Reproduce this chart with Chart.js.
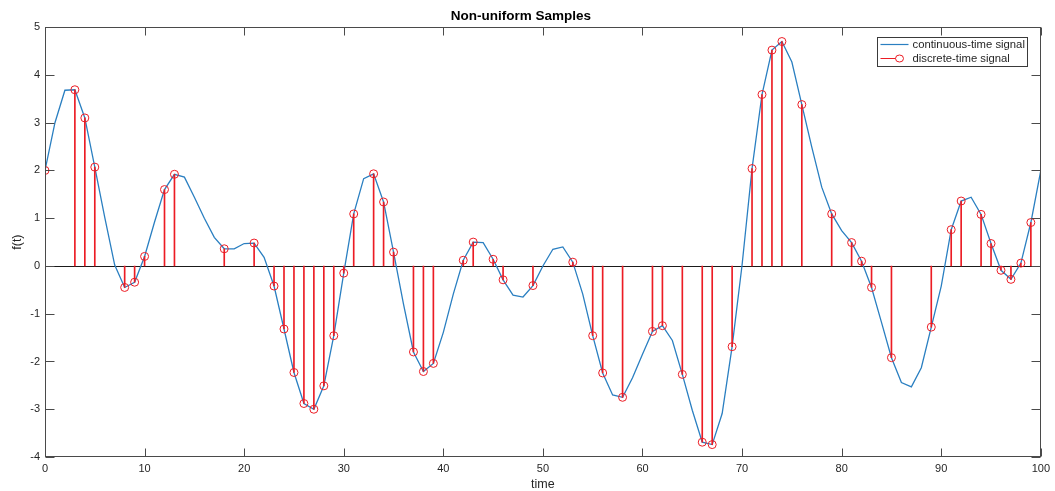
<!DOCTYPE html>
<html>
<head>
<meta charset="utf-8">
<script src="https://cdn.jsdelivr.net/npm/chart.js@4/dist/chart.umd.min.js"></script>
<style>
    html, body { margin: 0; padding: 0; background: #fff; }
    #wrap { width: 1055px; height: 491px; position: relative; }
</style>
</head>
<body>
<div id="wrap"><canvas id="signalChart"></canvas></div>
<script>
// Continuous-time signal, one value per time step 0..100
const signalValues = [
    2.00, 3.00, 3.68, 3.69, 3.10, 2.07, 1.02, 0.02, -0.45, -0.34,
    0.20, 0.92, 1.60, 1.92, 1.86, 1.44, 1.00, 0.60, 0.36, 0.36,
    0.47, 0.48, 0.18, -0.42, -1.32, -2.23, -2.88, -3.00, -2.51, -1.46,
    -0.15, 1.09, 1.83, 1.93, 1.34, 0.29, -0.80, -1.80, -2.21, -2.04,
    -1.39, -0.59, 0.12, 0.50, 0.49, 0.14, -0.29, -0.61, -0.65, -0.41,
    0.00, 0.35, 0.40, 0.08, -0.59, -1.46, -2.24, -2.70, -2.75, -2.34,
    -1.85, -1.37, -1.25, -1.56, -2.27, -3.02, -3.69, -3.74, -3.09, -1.69,
    0.02, 2.04, 3.59, 4.52, 4.70, 4.27, 3.38, 2.49, 1.65, 1.09,
    0.74, 0.49, 0.10, -0.45, -1.18, -1.92, -2.44, -2.53, -2.13, -1.28,
    -0.42, 0.76, 1.36, 1.44, 1.08, 0.47, -0.09, -0.28, 0.06, 0.91,
    2.00
];

// Non-uniform sample instants and their values
const sampleTimes = [
    0, 3, 4, 5, 8, 9, 10, 12, 13, 18, 21, 23, 24, 25, 26, 27, 28, 29, 30, 31,
    33, 34, 35, 37, 38, 39, 42, 43, 45, 46, 49, 53, 55, 56, 58, 61, 62, 64, 66, 67,
    69, 71, 72, 73, 74, 76, 79, 81, 82, 83, 85, 89, 91, 92, 94, 95, 96, 97, 98, 99
];
const sampleValues = [
    2.00, 3.69, 3.10, 2.07, -0.45, -0.34, 0.20, 1.60, 1.92, 0.36, 0.48, -0.42, -1.32, -2.23, -2.88, -3.00, -2.51, -1.46, -0.15, 1.09,
    1.93, 1.34, 0.29, -1.80, -2.21, -2.04, 0.12, 0.50, 0.14, -0.29, -0.41, 0.08, -1.46, -2.24, -2.75, -1.37, -1.25, -2.27, -3.69, -3.74,
    -1.69, 2.04, 3.59, 4.52, 4.70, 3.38, 1.09, 0.49, 0.10, -0.45, -1.92, -1.28, 0.76, 1.36, 1.08, 0.47, -0.09, -0.28, 0.06, 0.91
];

const xTicks = [0, 10, 20, 30, 40, 50, 60, 70, 80, 90, 100];
const yTicks = [-4, -3, -2, -1, 0, 1, 2, 3, 4, 5];

const legendLabels = ['continuous-time signal', 'discrete-time signal'];

const BLUE = '#2a7fc1';
const RED = '#ec1c24';
const AXIS = '#4a4a4a';
const TEXT = '#262626';
const FONT = '"Liberation Sans", Arial, Helvetica, sans-serif';

// Box, inward ticks, zero baseline and legend (MATLAB look)
const matlabAxes = {
    id: 'matlabAxes',
    beforeDatasetsDraw(chart) {
        const { ctx, chartArea: a, scales: { y } } = chart;
        const y0 = Math.round(y.getPixelForValue(0)) + 0.5;
        ctx.save();
        ctx.strokeStyle = '#1a1a1a';
        ctx.lineWidth = 1;
        ctx.beginPath();
        ctx.moveTo(a.left, y0);
        ctx.lineTo(a.right, y0);
        ctx.stroke();
        ctx.restore();
    },
    afterDatasetsDraw(chart) {
        const { ctx, chartArea: a, scales: { x, y } } = chart;
        ctx.save();
        ctx.strokeStyle = AXIS;
        ctx.lineWidth = 1;
        const L = Math.round(a.left) + 0.5, R = Math.round(a.right) - 0.5;
        const T = Math.round(a.top) + 0.5, B = Math.round(a.bottom) - 0.5;
        ctx.strokeRect(L, T, R - L, B - T);
        ctx.beginPath();
        xTicks.forEach(v => {
            const px = Math.round(x.getPixelForValue(v)) + 0.5;
            ctx.moveTo(px, B); ctx.lineTo(px, B - 8);
            ctx.moveTo(px, T); ctx.lineTo(px, T + 8);
        });
        yTicks.forEach(v => {
            const py = Math.round(y.getPixelForValue(v)) + 0.5;
            ctx.moveTo(L, py); ctx.lineTo(L + 9, py);
            ctx.moveTo(R, py); ctx.lineTo(R - 9, py);
        });
        ctx.stroke();

        // legend
        const bx = Math.round(a.right) - 163.5, by = Math.round(a.top) + 10.5;
        const bw = 150, bh = 29;
        ctx.fillStyle = '#fff';
        ctx.fillRect(bx, by, bw, bh);
        ctx.strokeStyle = '#3a3a3a';
        ctx.strokeRect(bx, by, bw, bh);
        const row1 = by + 7, row2 = by + 21;
        ctx.lineWidth = 1.2;
        ctx.strokeStyle = BLUE;
        ctx.beginPath(); ctx.moveTo(bx + 3, row1); ctx.lineTo(bx + 31, row1); ctx.stroke();
        ctx.strokeStyle = RED;
        ctx.lineWidth = 1;
        ctx.beginPath(); ctx.moveTo(bx + 3, row2); ctx.lineTo(bx + 18, row2); ctx.stroke();
        ctx.beginPath(); ctx.ellipse(bx + 22, row2, 4, 3.5, 0, 0, Math.PI * 2); ctx.stroke();
        ctx.fillStyle = TEXT;
        ctx.font = '11.3px ' + FONT;
        ctx.textBaseline = 'middle';
        ctx.textAlign = 'left';
        ctx.fillText(legendLabels[0], bx + 35, row1);
        ctx.fillText(legendLabels[1], bx + 35, row2);
        ctx.restore();
    }
};

const ctx = document.getElementById('signalChart');
new Chart(ctx, {
    type: 'line',
    data: {
        datasets: [
            {
                label: legendLabels[1],
                type: 'line',
                data: sampleTimes.map((t, i) => ({ x: t, y: sampleValues[i] })),
                showLine: false,
                pointRadius: 4,
                pointBorderWidth: 1,
                pointBorderColor: RED,
                pointBackgroundColor: 'rgba(0,0,0,0)',
                order: 0
            },
            {
                label: 'stems',
                type: 'bar',
                data: sampleTimes.map((t, i) => ({ x: t, y: sampleValues[i] })),
                backgroundColor: RED,
                borderWidth: 0,
                barThickness: 1,
                order: 1
            },
            {
                label: legendLabels[0],
                type: 'line',
                data: signalValues.map((v, i) => ({ x: i, y: v })),
                borderColor: BLUE,
                borderWidth: 1.3,
                pointRadius: 0,
                tension: 0,
                fill: false,
                order: 2
            }
        ]
    },
    options: {
        responsive: true,
        maintainAspectRatio: false,
        animation: false,
        layout: { padding: { top: 0, right: 13, left: 0, bottom: 0 } },
        plugins: {
            legend: { display: false },
            tooltip: { enabled: false },
            title: {
                display: true,
                text: 'Non-uniform Samples',
                color: '#000',
                font: { family: FONT, size: 13.5, weight: 'bold', lineHeight: 1.2 },
                padding: { top: 8, bottom: 3 }
            }
        },
        scales: {
            x: {
                type: 'linear',
                min: 0,
                max: 100,
                offset: false,
                afterBuildTicks: s => { s.ticks = xTicks.map(v => ({ value: v })); },
                afterFit: s => { s.height = 34; },
                grid: { display: false, drawTicks: false },
                border: { display: false },
                ticks: { color: TEXT, padding: 5, font: { family: FONT, size: 11 }, maxRotation: 0 },
                title: {
                    display: true,
                    text: 'time',
                    color: TEXT,
                    font: { family: FONT, size: 12.5, lineHeight: 1 },
                    padding: { top: 0, bottom: 0 }
                }
            },
            y: {
                type: 'linear',
                min: -4,
                max: 5,
                afterBuildTicks: s => { s.ticks = yTicks.map(v => ({ value: v })); },
                afterFit: s => { s.width = 45; },
                grid: { display: false, drawTicks: false },
                border: { display: false },
                ticks: { color: TEXT, padding: 5, font: { family: FONT, size: 11 } },
                title: {
                    display: true,
                    text: 'f(t)',
                    color: TEXT,
                    font: { family: FONT, size: 12.5, lineHeight: 1 },
                    padding: { top: 11, bottom: 0 }
                }
            }
        }
    },
    plugins: [matlabAxes]
});
</script>
</body>
</html>
